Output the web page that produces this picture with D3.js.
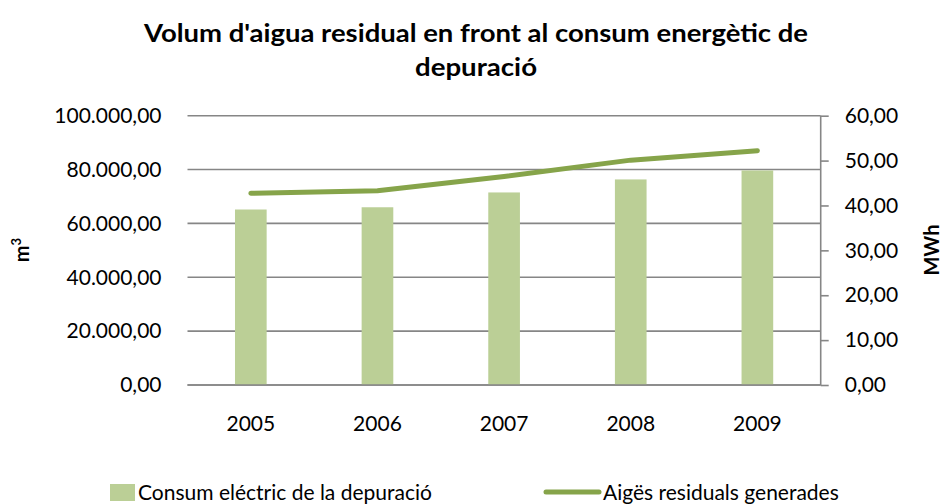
<!DOCTYPE html>
<html>
<head>
<meta charset="utf-8">
<script src="https://cdn.jsdelivr.net/npm/d3@7"></script>
<style>
  html, body { margin: 0; padding: 0; background: #fff; }
  svg { display: block; font-family: Lato, "Open Sans", sans-serif; }
</style>
</head>
<body>
<svg id="chart" width="952" height="504"></svg>
<script>
// Years on the category axis
const years = ["2005", "2006", "2007", "2008", "2009"];
// Electricity used by the treatment plant (MWh, right axis)
const consumMWh = [39.1, 39.6, 42.9, 45.8, 47.8];
// Waste water produced (m3, left axis)
const aiguesM3 = [71200, 72100, 77400, 83500, 87000];
// Tick values for both value axes
const leftTicks = [0, 20000, 40000, 60000, 80000, 100000];
const rightTicks = [0, 10, 20, 30, 40, 50, 60];

const titleLines = ["Volum d'aigua residual en front al consum energètic de", "depuració"];
const titleWidths = [664, 122];
const seriesNames = ["Consum eléctric de la depuració", "Aigës residuals generades"];

const barColor = "#bbcf96";
const lineColor = "#86a44a";
const gridColor = "#868686";

const svg = d3.select("#chart");
const plot = { left: 187.5, right: 820.7, top: 115.7, bottom: 385 };

// number format: 100.000,00
const locale = d3.formatLocale({ decimal: ",", thousands: ".", grouping: [3], currency: ["", ""] });
const fmt = locale.format(",.2f");

const x = d3.scaleBand().domain(years).range([plot.left, plot.right]).paddingInner(0).paddingOuter(0);
const yLeft = d3.scaleLinear().domain([0, 100000]).range([plot.bottom, plot.top]);
const yRight = d3.scaleLinear().domain([0, 60]).range([plot.bottom, plot.top]);

// Title
svg.append("g").selectAll("text").data(titleLines).join("text")
  .attr("x", 476).attr("y", (d, i) => 42 + i * 34)
  .attr("text-anchor", "middle")
  .attr("font-weight", "bold").attr("font-size", 25).attr("fill", "#000")
  .attr("textLength", (d, i) => titleWidths[i]).attr("lengthAdjust", "spacingAndGlyphs")
  .text(d => d);

// Horizontal gridlines (left axis)
svg.append("g").selectAll("line").data(leftTicks).join("line")
  .attr("x1", plot.left).attr("x2", plot.right)
  .attr("y1", d => yLeft(d)).attr("y2", d => yLeft(d))
  .attr("stroke", gridColor).attr("stroke-width", 1.6);

// Left axis labels
const leftAxis = d3.axisLeft(yLeft).tickValues(leftTicks).tickFormat(fmt).tickSize(0).tickPadding(26);
const gL = svg.append("g").attr("transform", `translate(${plot.left},0)`).call(leftAxis);
gL.select(".domain").remove();
gL.selectAll("text").attr("font-size", 21).attr("fill", "#000").attr("font-family", "Lato, sans-serif");

// Right axis
const rightAxis = d3.axisRight(yRight).tickValues(rightTicks).tickFormat(fmt).tickSize(8).tickPadding(16);
const gR = svg.append("g").attr("transform", `translate(${plot.right},0)`).call(rightAxis);
gR.select(".domain").attr("stroke", gridColor).attr("stroke-width", 1.6).attr("d", `M0,${plot.top}V${plot.bottom}`);
gR.selectAll(".tick line").attr("stroke", gridColor).attr("stroke-width", 1.6);
gR.selectAll("text").attr("font-size", 21).attr("fill", "#000").attr("font-family", "Lato, sans-serif");

// Bars (MWh)
const bw = x.bandwidth() * 0.25;
svg.append("g").selectAll("rect").data(years).join("rect")
  .attr("x", d => x(d) + x.bandwidth() / 2 - bw / 2)
  .attr("width", bw)
  .attr("y", (d, i) => yRight(consumMWh[i]))
  .attr("height", (d, i) => plot.bottom - yRight(consumMWh[i]))
  .attr("fill", barColor);

// Bottom axis line drawn over the bars
svg.append("line")
  .attr("x1", plot.left).attr("x2", plot.right)
  .attr("y1", plot.bottom).attr("y2", plot.bottom)
  .attr("stroke", gridColor).attr("stroke-width", 1.6);

// Line (m3)
const lineGen = d3.line()
  .x((d, i) => x(years[i]) + x.bandwidth() / 2)
  .y(d => yLeft(d));
svg.append("path").datum(aiguesM3)
  .attr("d", lineGen)
  .attr("fill", "none").attr("stroke", lineColor)
  .attr("stroke-width", 5).attr("stroke-linecap", "round").attr("stroke-linejoin", "round");

// Category labels
const bottomAxis = d3.axisBottom(x).tickSize(0).tickPadding(31);
const gB = svg.append("g").attr("transform", `translate(0,${plot.bottom})`).call(bottomAxis);
gB.select(".domain").remove();
gB.selectAll("text").attr("font-size", 21).attr("fill", "#000").attr("font-family", "Lato, sans-serif");

// Axis titles
svg.append("text")
  .attr("transform", `translate(29,250) rotate(-90)`)
  .attr("text-anchor", "middle").attr("font-weight", "bold").attr("font-size", 20)
  .html('m<tspan baseline-shift="super" font-size="13">3</tspan>');
svg.append("text")
  .attr("transform", `translate(939,250) rotate(-90)`)
  .attr("text-anchor", "middle").attr("font-weight", "bold").attr("font-size", 20)
  .text("MWh");

// Legend
const leg = svg.append("g");
leg.append("rect").attr("x", 110).attr("y", 484).attr("width", 25).attr("height", 17).attr("fill", barColor);
leg.append("text").attr("x", 138).attr("y", 500).attr("font-size", 21).text(seriesNames[0]);
leg.append("line").attr("x1", 546).attr("x2", 599).attr("y1", 492).attr("y2", 492)
  .attr("stroke", lineColor).attr("stroke-width", 5).attr("stroke-linecap", "round");
leg.append("text").attr("x", 603).attr("y", 500).attr("font-size", 21).text(seriesNames[1]);
</script>
</body>
</html>
